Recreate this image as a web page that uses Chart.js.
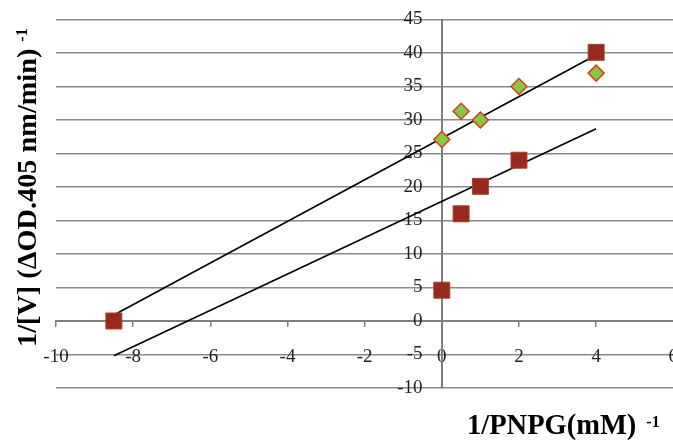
<!DOCTYPE html>
<html>
<head>
<meta charset="utf-8">
<script src="https://cdn.jsdelivr.net/npm/chart.js@4/dist/chart.umd.min.js"></script>
<style>
  html, body { margin: 0; padding: 0; background: #fff; overflow: hidden; }
  #wrap { position: relative; width: 700px; height: 440px; }
</style>
</head>
<body>
<div id="wrap"><canvas id="c"></canvas></div>
<script>
// Lineweaver-Burk plot: 1/[V] against 1/[PNPG]
const squareX = [-8.5, 0, 0.5, 1, 2, 4];
const squareY = [0, 4.6, 16, 20.1, 24, 40.1];
const diamondX = [0, 0.5, 1, 2, 4];
const diamondY = [27.1, 31.3, 30, 35, 37];
// Linear fits, given by their end points
const fitX = [-8.5, 4];
const fitUpperY = [0.9, 39.7];
const fitLowerY = [-5.2, 28.7];

const xTitle = '1/PNPG(mM)';
const yTitle = '1/[V] (ΔOD.405 nm/min)';
const expText = '-1';

const Y_MIN = -10, Y_MAX = 45, Y_STEP = 5;
const X_MIN = -10, X_MAX = 6, X_STEP = 2;

const pts = (xs, ys) => xs.map((x, i) => ({ x: x, y: ys[i] }));
const tickFont = { family: '"Liberation Serif"', size: 19 };

const titles = {
  id: 'titles',
  afterDraw(chart) {
    const ctx = chart.ctx;
    ctx.save();
    ctx.fillStyle = '#000';
    ctx.textBaseline = 'alphabetic';
    ctx.textAlign = 'left';
    // x title
    ctx.font = 'bold 28.5px "Liberation Serif"';
    ctx.fillText(xTitle, 467, 434);
    const w = ctx.measureText(xTitle).width;
    ctx.font = 'bold 16px "Liberation Serif"';
    ctx.fillText(expText, 467 + w + 10, 427);
    // y title, rotated
    ctx.translate(36, 347);
    ctx.rotate(-Math.PI / 2);
    ctx.font = 'bold 28.3px "Liberation Serif"';
    ctx.fillText(yTitle, 0, 0);
    const wy = ctx.measureText(yTitle).width;
    ctx.font = 'bold 16px "Liberation Serif"';
    ctx.fillText(expText, wy + 7, -9);
    ctx.restore();
  }
};

new Chart(document.getElementById('c'), {
  type: 'scatter',
  data: {
    datasets: [
      {
        data: pts(fitX, fitUpperY),
        showLine: true,
        borderColor: '#000',
        borderWidth: 1.6,
        pointRadius: 0,
        order: 3
      },
      {
        data: pts(fitX, fitLowerY),
        showLine: true,
        borderColor: '#000',
        borderWidth: 1.6,
        pointRadius: 0,
        order: 3
      },
      {
        data: pts(diamondX, diamondY),
        pointStyle: 'rectRot',
        pointRadius: 8,
        backgroundColor: '#8cc63e',
        borderColor: '#c8461e',
        borderWidth: 1.5,
        order: 2
      },
      {
        data: pts(squareX, squareY),
        pointStyle: 'rect',
        pointRadius: 11.3,
        backgroundColor: '#982a1c',
        borderColor: '#a8402f',
        borderWidth: 1,
        order: 1
      }
    ]
  },
  options: {
    responsive: true,
    maintainAspectRatio: false,
    animation: false,
    events: [],
    layout: { padding: { left: 56, top: 19.5, right: 26.7, bottom: 52 } },
    plugins: { legend: { display: false }, tooltip: { enabled: false } },
    scales: {
      x: {
        type: 'linear',
        position: { y: 0 },
        min: X_MIN,
        max: X_MAX,
        ticks: {
          stepSize: X_STEP,
          color: '#222',
          padding: 20,
          maxRotation: 0,
          font: tickFont
        },
        grid: {
          drawOnChartArea: false,
          drawTicks: true,
          tickLength: 5,
          color: '#7f7f7f',
          lineWidth: 1.5
        },
        border: { display: true, color: '#7f7f7f', width: 2 }
      },
      // value axis: horizontal gridlines and the vertical axis line through x = 0
      y: {
        type: 'linear',
        position: { x: 0 },
        min: Y_MIN,
        max: Y_MAX,
        ticks: { stepSize: Y_STEP, display: false, padding: 0 },
        grid: {
          drawTicks: false,
          color: '#8a8a8a',
          lineWidth: 1.5
        },
        border: { display: true, color: '#7f7f7f', width: 2 }
      },
      // its tick labels, set a little to the left of the axis line
      yLabels: {
        type: 'linear',
        axis: 'y',
        position: { x: -0.5 },
        min: Y_MIN,
        max: Y_MAX,
        ticks: {
          stepSize: Y_STEP,
          color: '#222',
          padding: 0,
          font: tickFont
        },
        grid: { display: false },
        border: { display: false }
      }
    }
  },
  plugins: [titles]
});
</script>
</body>
</html>
